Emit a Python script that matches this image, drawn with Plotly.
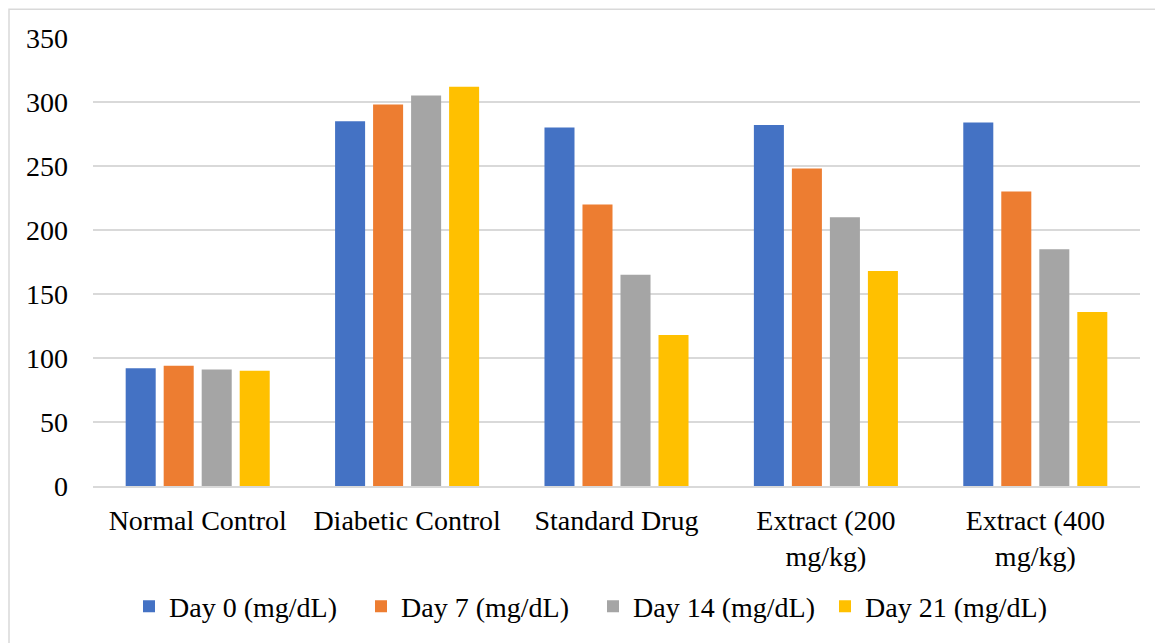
import plotly.graph_objects as go

categories = ["Normal Control", "Diabetic Control", "Standard Drug",
              "Extract (200<br>mg/kg)", "Extract (400<br>mg/kg)"]
series_names = ["Day 0 (mg/dL)", "Day 7 (mg/dL)", "Day 14 (mg/dL)", "Day 21 (mg/dL)"]
day0 = [92, 285, 280, 282, 284]
day7 = [94, 298, 220, 248, 230]
day14 = [91, 305, 165, 210, 185]
day21 = [90, 312, 118, 168, 136]
y_ticks = [0, 50, 100, 150, 200, 250, 300, 350]

colors = ["#4472C4", "#ED7D31", "#A5A5A5", "#FFC000"]
values = [day0, day7, day14, day21]

FONT = "Liberation Serif, Times New Roman, serif"
FS = 28

# page body has an 8px margin, so the figure is offset by 8px
W, H = 1155, 635
L, T, R, B = 85, 30, 23, 155
PW, PH = W - L - R, H - T - B

fig = go.Figure()
for name, vals, col in zip(series_names, values, colors):
    fig.add_trace(go.Bar(x=categories, y=vals, name=name, marker_color=col,
                         marker_line_width=0))

fig.update_layout(
    width=W, height=H,
    margin=dict(l=L, r=R, t=T, b=B, pad=0),
    paper_bgcolor="white", plot_bgcolor="white",
    barmode="group", bargap=0.274, bargroupgap=0.21,
    font=dict(family=FONT, size=FS, color="black"),
    legend=dict(orientation="h", x=(121 - L) / PW, xanchor="left",
                y=-(601 - 480) / PH, yanchor="middle", entrywidth=187,
                font=dict(family=FONT, size=FS, color="black"), traceorder="normal"),
    showlegend=True,
)
fig.update_yaxes(range=[0, 350], tickvals=y_ticks, showgrid=True, gridcolor="#D9D9D9",
                 gridwidth=1.5, zeroline=False, showline=False, ticks="",
                 ticklabelstandoff=24, tickfont=dict(family=FONT, size=FS))
fig.update_xaxes(showline=True, linecolor="#D9D9D9", linewidth=2, ticks="",
                 showgrid=False, ticklabelstandoff=8, tickfont=dict(family=FONT, size=FS))

# outer chart border
fig.add_shape(type="rect", xref="paper", yref="paper",
              x0=(1 - L) / PW, x1=(1170 - L) / PW,
              y0=-(650 - 480) / PH, y1=(480 - 1) / PH,
              line=dict(color="#D9D9D9", width=1.5), fillcolor="rgba(0,0,0,0)", layer="below")

fig.write_html("out.html")
